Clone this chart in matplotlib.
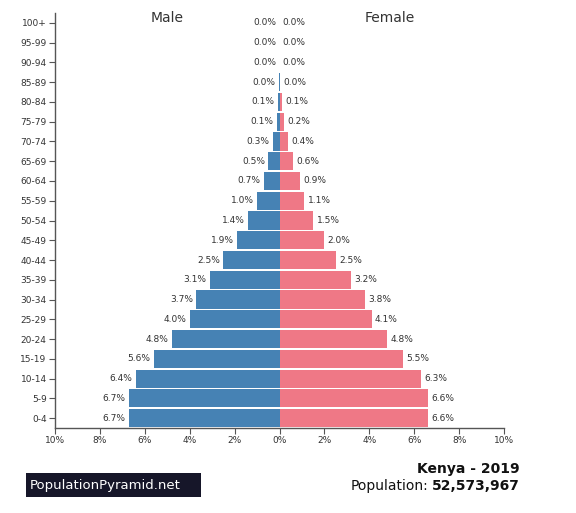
import matplotlib.pyplot as plt
import matplotlib.patches as mpatches

# Kenya 2019 population pyramid (% of total population)
age_groups = ['0-4', '5-9', '10-14', '15-19', '20-24', '25-29', '30-34', '35-39',
              '40-44', '45-49', '50-54', '55-59', '60-64', '65-69', '70-74',
              '75-79', '80-84', '85-89', '90-94', '95-99', '100+']
male = [6.7, 6.7, 6.4, 5.6, 4.8, 4.0, 3.7, 3.1, 2.5, 1.9, 1.4, 1.0, 0.7, 0.5,
        0.3, 0.13, 0.08, 0.03, 0.0, 0.0, 0.0]
female = [6.6, 6.6, 6.3, 5.5, 4.8, 4.1, 3.8, 3.2, 2.5, 2.0, 1.5, 1.1, 0.9, 0.6,
          0.4, 0.2, 0.1, 0.04, 0.0, 0.0, 0.0]
x_ticks = [-10, -8, -6, -4, -2, 0, 2, 4, 6, 8, 10]

blue = '#4682b4'
pink = '#ef7886'
text_col = '#333333'

fig = plt.figure(figsize=(5.76, 5.13), dpi=100)
ax = fig.add_axes([55 / 576, 85 / 513, 449 / 576, 415 / 513])

y = list(range(len(age_groups)))
ax.barh(y, [-v for v in male], height=0.92, color=blue, linewidth=0)
ax.barh(y, female, height=0.92, color=pink, linewidth=0)

for i in y:
    ax.text(-male[i] - 0.15, i, f'{male[i]:.1f}%', ha='right', va='center',
            fontsize=6.5, color=text_col)
    ax.text(female[i] + 0.15, i, f'{female[i]:.1f}%', ha='left', va='center',
            fontsize=6.5, color=text_col)

ax.set_xlim(-10, 10)
ax.set_ylim(-0.5, len(age_groups) - 0.5)
ax.set_yticks(y)
ax.set_yticklabels(age_groups, fontsize=6.5, color=text_col)
ax.set_xticks(x_ticks)
ax.set_xticklabels([f'{abs(t)}%' for t in x_ticks], fontsize=6.5, color=text_col)

for s in ['top', 'right']:
    ax.spines[s].set_visible(False)
for s in ['left', 'bottom']:
    ax.spines[s].set_color('#555555')
    ax.spines[s].set_linewidth(1.0)
ax.tick_params(axis='both', length=4, width=0.8, color='#555555', pad=2)

fig.text(167 / 576, 1 - 18 / 513, 'Male', ha='center', va='center', fontsize=10, color=text_col)
fig.text(390 / 576, 1 - 18 / 513, 'Female', ha='center', va='center', fontsize=10, color=text_col)

# footer
fig.text(520 / 576, 1 - 469 / 513, 'Kenya - 2019', ha='right', va='center',
         fontsize=10, fontweight='bold', color='#111111')
num = fig.text(520 / 576, 1 - 486 / 513, '52,573,967', ha='right', va='center',
               fontsize=10, fontweight='bold', color='#111111')
fig.canvas.draw()
bb = num.get_window_extent()
fig.text((bb.x0 - 4) / fig.bbox.width, 1 - 486 / 513, 'Population:', ha='right',
         va='center', fontsize=10, color='#111111')

fig.patches.append(mpatches.Rectangle((26 / 576, 1 - 497 / 513), 175 / 576, 24 / 513,
                                      transform=fig.transFigure, facecolor='#161629',
                                      edgecolor='none'))
fig.text(30 / 576, 1 - 485 / 513, 'PopulationPyramid.net', ha='left', va='center',
         fontsize=9.5, color='white')

fig.savefig('out.png', dpi=100)
